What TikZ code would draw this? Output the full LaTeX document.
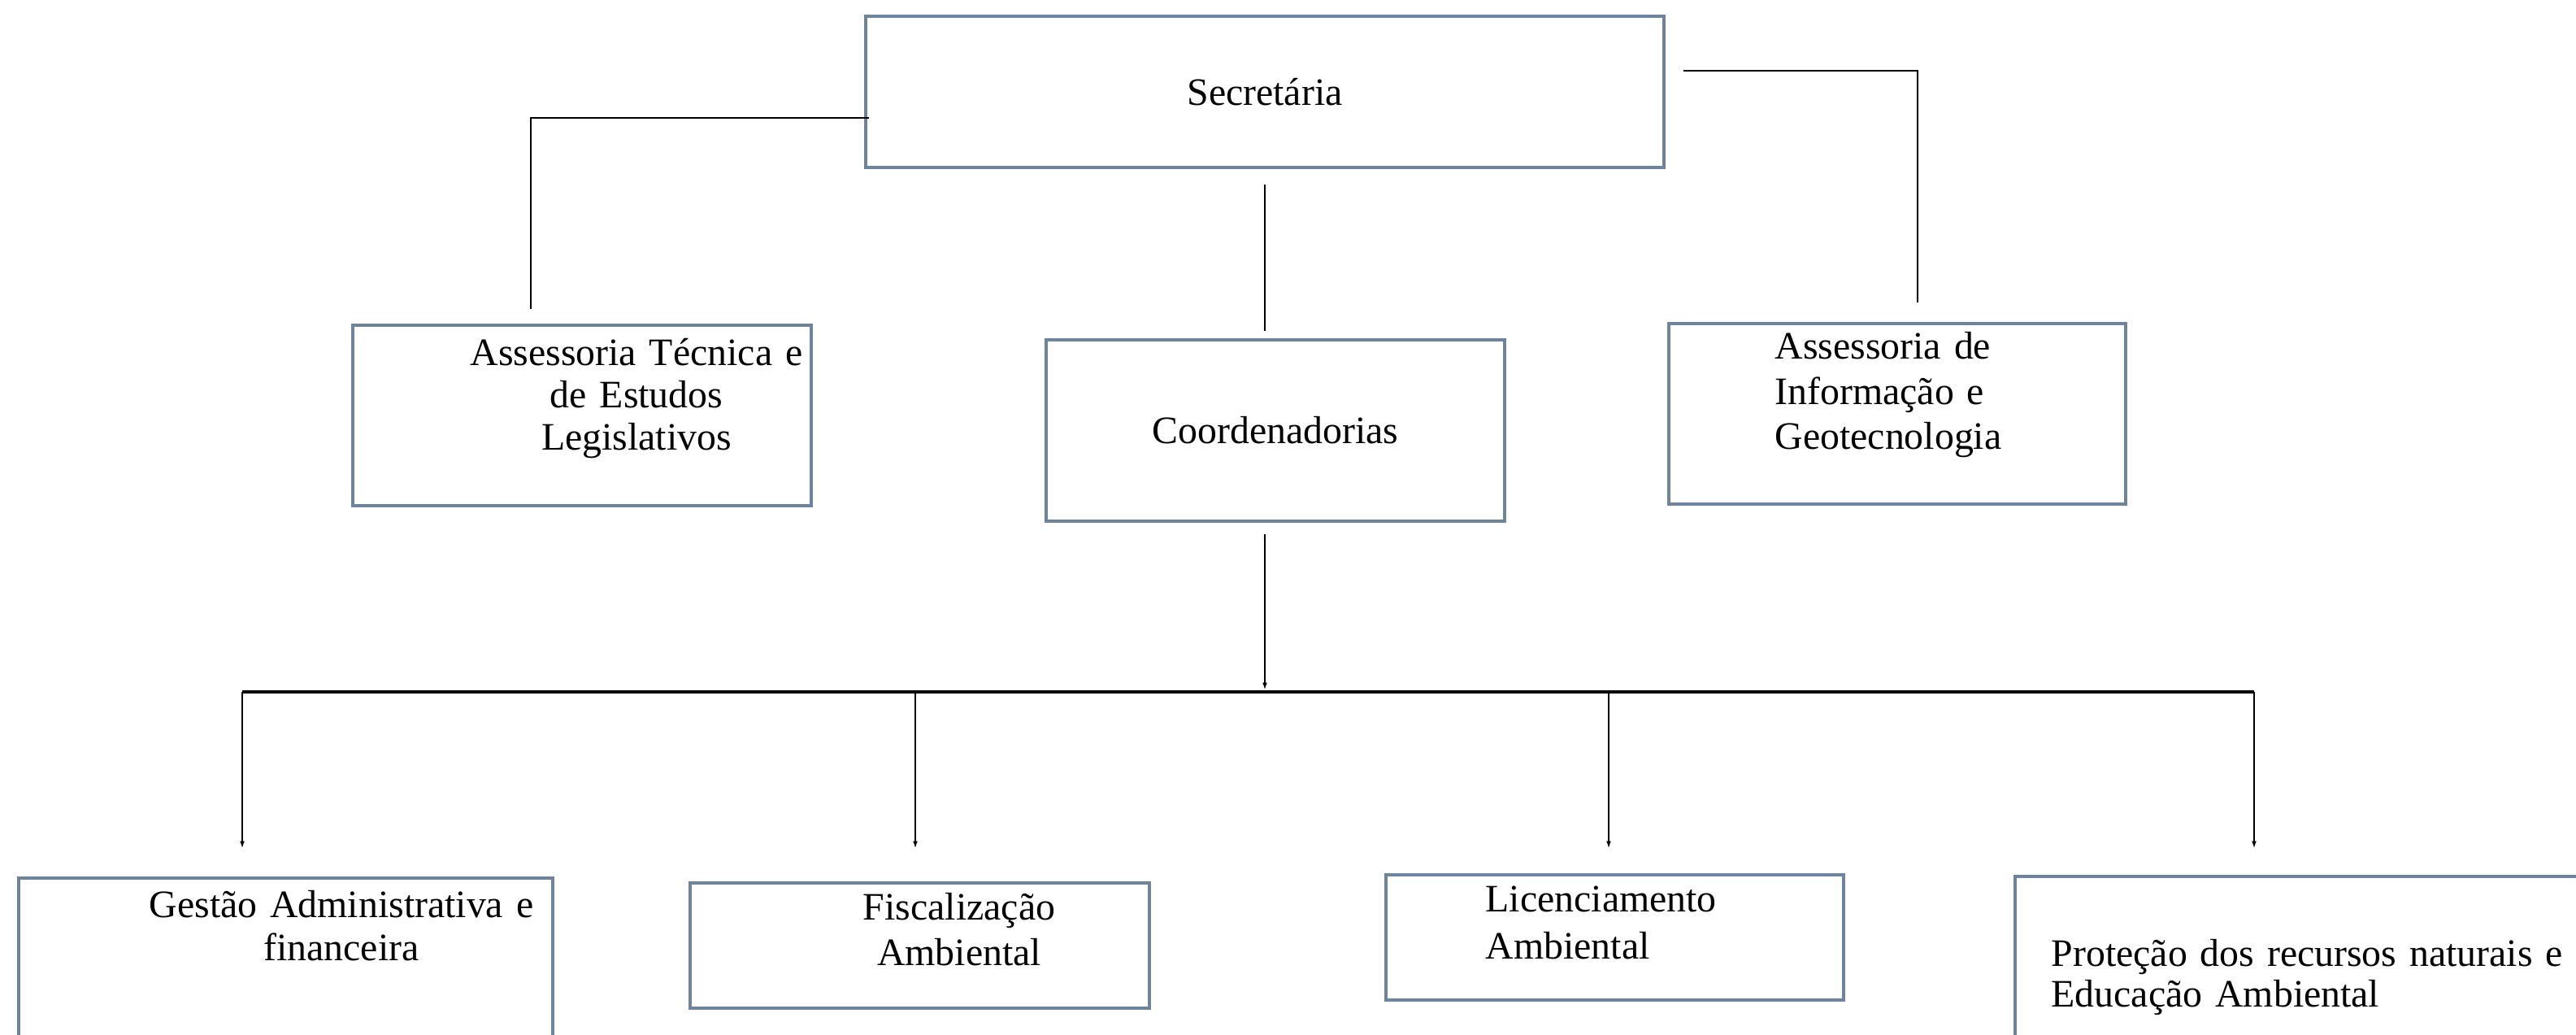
\documentclass[tikz,border=0pt]{standalone}
\usepackage{fontspec}
\setmainfont{Liberation Serif}
\usepackage{xcolor}
\usetikzlibrary{arrows.meta}

\definecolor{boxline}{RGB}{110,131,156}

\tikzset{
  orgbox/.style={draw=boxline, line width=1.1pt, inner sep=0pt, font=\fontsize{13.6}{15}\selectfont},
  orgtext/.style={inner sep=0pt, font=\fontsize{13.6}{15}\selectfont},
  joinline/.style={line width=0.55pt},
  droparrow/.style={line width=0.35pt, -{Latex[length=2.4pt,width=1.7pt]}},
  barline/.style={line width=1pt}
}

\begin{document}
\begin{tikzpicture}
\useasboundingbox (0,0) rectangle (31.69,12.73);
\clip (0,0) rectangle (31.69,12.73);

\node[orgbox, minimum width=9.82cm, minimum height=1.86cm] (secretaria) at (15.56,11.60) {Secretária};

\node[orgbox, minimum width=5.64cm, minimum height=2.22cm] (atecnica) at (7.16,7.62) {};
\node[orgbox, minimum width=5.64cm, minimum height=2.23cm] (coord) at (15.69,7.435) {Coordenadorias};
\node[orgbox, minimum width=5.62cm, minimum height=2.22cm] (ainfo) at (23.34,7.64) {};

\node[orgtext, font=\fontsize{13.6}{14.7}\selectfont, text width=4.5cm, align=center, anchor=base] (atecnicaTxt) at (7.83,8.23) {Assessoria Técnica e\\ de Estudos\\ Legislativos};
\node[orgtext, font=\fontsize{13.6}{15.7}\selectfont, text width=3.4cm, align=left, anchor=base west] (ainfoTxt) at (21.83,8.31) {Assessoria de\\ Informação e\\ Geotecnologia};

\node[orgbox, minimum width=6.57cm, minimum height=2.18cm] (gestao) at (3.515,0.84) {};
\node[orgbox, minimum width=5.65cm, minimum height=1.54cm] (fiscal) at (11.315,1.10) {};
\node[orgbox, minimum width=5.63cm, minimum height=1.54cm] (licenc) at (19.865,1.20) {};
\node[orgbox, minimum width=7.2cm, minimum height=2.2cm] (protecao) at (28.39,0.85) {};

\node[orgtext, font=\fontsize{13.6}{14.8}\selectfont, text width=5cm, align=center, anchor=base] (gestaoTxt) at (4.20,1.44) {Gestão Administrativa e\\ financeira};
\node[orgtext, font=\fontsize{13.6}{15.9}\selectfont, text width=3cm, align=center, anchor=base] (fiscalTxt) at (11.80,1.41) {Fiscalização\\ Ambiental};
\node[orgtext, font=\fontsize{13.6}{16.4}\selectfont, text width=3.2cm, align=left, anchor=base west] (licencTxt) at (18.27,1.51) {Licenciamento\\ Ambiental};
\node[orgtext, font=\fontsize{13.6}{14}\selectfont, text width=6.3cm, align=left, anchor=base west] (protecaoTxt) at (25.23,0.84) {Proteção dos recursos naturais e\\ Educação Ambiental};

% links from the top box
\coordinate (atecnicaTop) at (6.53,8.93);
\coordinate (ainfoTop) at (23.59,9.01);
\draw[joinline] ([xshift=0.06cm,yshift=-0.32cm]secretaria.west) -| (atecnicaTop);
\draw[joinline] ([xshift=0.22cm,yshift=0.26cm]secretaria.east) -| (ainfoTop);
\draw[line width=0.35pt] ([yshift=-0.19cm]secretaria.south) -- ([yshift=0.09cm]secretaria.south |- coord.north);

% coordenadorias
\coordinate (barL) at (2.98,4.22);
\coordinate (barR) at (27.73,4.22);
\draw[droparrow] ([yshift=-0.14cm]secretaria.south |- coord.south) -- ([yshift=0.03cm]secretaria.south |- barL);
\draw[barline] (barL) -- (barR);
\foreach \x in {2.98,11.26,19.79,27.73}
  \draw[droparrow] (\x,4.22) -- (\x,2.30);

\end{tikzpicture}
\end{document}
